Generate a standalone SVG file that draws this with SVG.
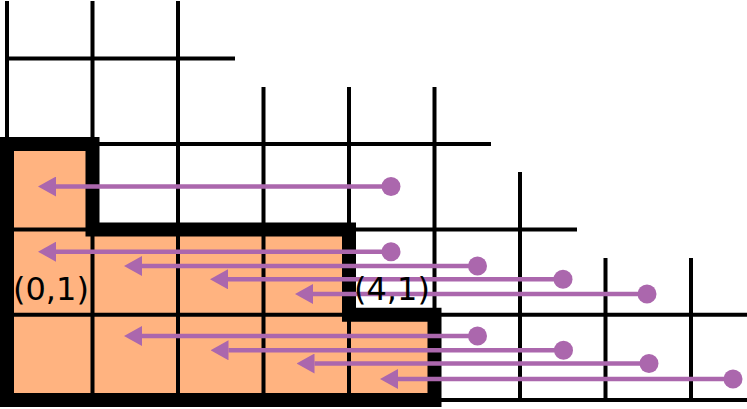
<svg xmlns="http://www.w3.org/2000/svg" width="747" height="409" viewBox="0 0 747 409">
  <style>
    .grid { stroke: #000; stroke-width: 4; fill: none; }
    .border { stroke: #000; stroke-width: 14; fill: none; stroke-linejoin: miter; }
    .fill { fill: #ffb380; stroke: none; }
    .arrow { stroke: #ab67ad; stroke-width: 4.5; fill: none; marker-start: url(#dot); marker-end: url(#head); }
    .label { font-family: "DejaVu Sans", sans-serif; font-size: 32px; fill: #000; }
  </style>
  <defs>
    <marker id="head" markerUnits="userSpaceOnUse" viewBox="0 0 18 20" refX="0" refY="10" markerWidth="18" markerHeight="20" orient="auto">
      <path d="M0,0 L18,10 L0,20 Z" fill="#ab67ad"/>
    </marker>
    <marker id="dot" markerUnits="userSpaceOnUse" viewBox="0 0 20 20" refX="10" refY="10" markerWidth="20" markerHeight="20" orient="auto">
      <circle cx="10" cy="10" r="9.5" fill="#ab67ad"/>
    </marker>
  </defs>
  <rect width="747" height="409" fill="#fff"/>
  <g id="region">
    <path class="fill" d="M7,144 H92.5 V229.4 H349 V314.8 H434.5 V400 H7 Z"/>
  </g>
  <g id="grid">
    <line class="grid" x1="7" y1="1" x2="7" y2="400"/>
    <line class="grid" x1="92.5" y1="1" x2="92.5" y2="400"/>
    <line class="grid" x1="178" y1="1" x2="178" y2="400"/>
    <line class="grid" x1="263.5" y1="87" x2="263.5" y2="400"/>
    <line class="grid" x1="349" y1="87" x2="349" y2="400"/>
    <line class="grid" x1="434.5" y1="87" x2="434.5" y2="400"/>
    <line class="grid" x1="520" y1="172" x2="520" y2="400"/>
    <line class="grid" x1="605.5" y1="258" x2="605.5" y2="400"/>
    <line class="grid" x1="691" y1="258" x2="691" y2="400"/>
    <line class="grid" x1="7" y1="58.5" x2="235" y2="58.5"/>
    <line class="grid" x1="7" y1="144" x2="491" y2="144"/>
    <line class="grid" x1="7" y1="229.4" x2="577" y2="229.4"/>
    <line class="grid" x1="7" y1="314.8" x2="747" y2="314.8"/>
    <line class="grid" x1="7" y1="400" x2="747" y2="400"/>
  </g>
  <g id="outline">
    <path class="border" d="M7,144 H92.5 V229.4 H349 V314.8 H434.5 V400 H7 Z"/>
  </g>
  <g id="connectors">
    <line class="arrow" x1="391" y1="186.5" x2="56" y2="186.5"/>
    <line class="arrow" x1="391" y1="251.7" x2="56" y2="251.7"/>
    <line class="arrow" x1="477.5" y1="266" x2="142" y2="266"/>
    <line class="arrow" x1="563" y1="279.3" x2="228" y2="279.3"/>
    <line class="arrow" x1="647" y1="294" x2="313" y2="294"/>
    <line class="arrow" x1="477.5" y1="336" x2="142" y2="336"/>
    <line class="arrow" x1="563.5" y1="350.3" x2="228.5" y2="350.3"/>
    <line class="arrow" x1="649" y1="363.5" x2="314.5" y2="363.5"/>
    <line class="arrow" x1="733" y1="379" x2="398" y2="379"/>
  </g>
  <g id="label-0-1">
    <text class="label" x="13" y="300">(0,1)</text>
  </g>
  <g id="label-4-1">
    <text class="label" x="354" y="300">(4,1)</text>
  </g>
</svg>
